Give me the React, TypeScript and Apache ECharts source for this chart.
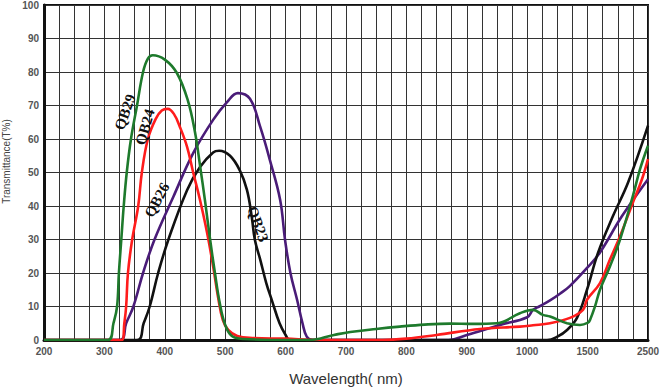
import React, { useEffect, useRef } from "react";
import * as echarts from "echarts";

// Wavelength (nm) -> transmittance (%)
const qb29: number[][] = [
  [200, 0], [306, 0], [315, 5], [321, 10], [324, 20], [328, 30], [332, 40], [337, 50], [344, 60],
  [354, 70], [364, 80], [372, 84], [380, 85], [400, 83.7], [420, 79.7], [438, 71.6],
  [450, 62], [458, 52.5], [467, 41], [475, 30], [483, 20], [491, 11], [500, 4.5],
  [511, 1.2], [530, 0.3], [600, 0], [640, 0], [680, 1.5], [707, 2.4], [750, 3.3], [789, 4],
  [830, 4.6], [872, 4.9], [910, 4.8], [950, 5], [988, 8], [1048, 9], [1130, 7.5], [1189, 7],
  [1330, 5], [1437, 4.5], [1507, 5.2], [1540, 6], [1622, 10], [1705, 15], [1871, 22],
  [2037, 30], [2250, 43], [2368, 51], [2500, 58]
];
const qb24: number[][] = [
  [200, 0], [329, 0], [333, 5], [336, 10], [339, 20], [346, 30], [356, 40], [362, 50],
  [372, 60], [385, 66], [395, 68.5], [405, 69], [415, 67.5], [425, 63.6], [437, 57.6], [447, 50],
  [458, 42], [470, 32], [480, 22], [488, 13], [496, 6], [505, 3], [520, 1.2], [545, 0.6],
  [600, 0.4], [650, 0], [760, 0], [800, 0.4], [850, 1.5], [922, 3.3], [988, 4], [1048, 4.4],
  [1189, 5], [1354, 6.6], [1462, 9], [1495, 12], [1705, 17], [1870, 24], [2037, 31],
  [2250, 41], [2400, 48], [2500, 54]
];
const qb26: number[][] = [
  [200, 0], [326, 0], [336, 5], [348, 10], [364, 20], [383, 30], [414, 42.7], [447, 55.8],
  [480, 65.7], [503, 71], [521, 73.7], [541, 72], [558, 63.6], [574, 53.7], [591, 41.8],
  [599, 30], [608, 20], [619, 12], [628, 5], [635, 1], [645, 0], [870, 0],
  [900, 1.5], [955, 4.5], [1000, 6.8], [1048, 9], [1100, 10], [1189, 11.8], [1271, 13.8],
  [1350, 16], [1495, 21.5], [1700, 26], [2070, 37], [2500, 48]
];
const qb23: number[][] = [
  [200, 0], [354, 0], [365, 5], [375, 10], [389, 20], [406, 30], [437, 44.8], [458, 51.6],
  [480, 56], [490, 56.5], [508, 55], [524, 50.7], [536, 44.8], [544, 36.7], [549, 30],
  [558, 24], [568, 17], [577, 12], [590, 5], [600, 1.5], [607, 0], [1164, 0], [1250, 1],
  [1330, 3], [1412, 6.6], [1495, 15], [1672, 26], [1920, 37], [2170, 47], [2500, 64]
];

const seriesNames = ["QB29", "QB24", "QB26", "QB23"];
const seriesColors = ["#1e7a2c", "#ff1c1c", "#4a1c78", "#111111"];
const xTickLabels = ["200", "300", "400", "500", "600", "700", "800", "900", "1000", "1500", "2500"];
// wavelength breakpoints of the non-linear axis (nm) and the axis units per segment
const breakNm = [200, 1000, 1500, 2500];
const breakPos = [0, 32, 36, 40];

function toAxis(nm: number): number {
  for (let i = 0; i < breakNm.length - 1; i++) {
    if (nm <= breakNm[i + 1]) {
      const t = (nm - breakNm[i]) / (breakNm[i + 1] - breakNm[i]);
      return breakPos[i] + t * (breakPos[i + 1] - breakPos[i]);
    }
  }
  return breakPos[breakPos.length - 1];
}

export default function App() {
  const ref = useRef<HTMLDivElement>(null);
  useEffect(() => {
    if (!ref.current) return;
    const chart = echarts.init(ref.current, null, { renderer: "svg" });
    const all = [qb29, qb24, qb26, qb23];
    const drawOrder = [2, 3, 1, 0];
    const series = drawOrder.map((i) => ({
      name: seriesNames[i],
      type: "line",
      data: all[i].map((p) => [toAxis(p[0]), p[1]]),
      showSymbol: false,
      smooth: 0.4,
      lineStyle: { color: seriesColors[i], width: 2.6 },
      itemStyle: { color: seriesColors[i] },
      z: 3,
    }));
    const labelFont = '"Liberation Serif", "DejaVu Serif", serif';
    const mkLabel = (text: string, x: number, y: number, deg: number) => ({
      type: "text",
      x,
      y,
      rotation: (deg * Math.PI) / 180,
      z: 10,
      style: {
        text,
        fill: "#111",
        font: `bold 15px ${labelFont}`,
        textAlign: "center",
        textVerticalAlign: "middle",
      },
    });
    const sans = "Liberation Sans, Arial, sans-serif";
    chart.setOption({
      animation: false,
      backgroundColor: "#ffffff",
      grid: {
        left: 44,
        right: 12,
        top: 5,
        bottom: 50,
        show: true,
        borderColor: "#111",
        borderWidth: 2,
        containLabel: false,
        outerBoundsMode: "none",
      },
      xAxis: {
        type: "value",
        min: 0,
        max: 40,
        interval: 1,
        name: "Wavelength( nm)",
        nameLocation: "middle",
        nameGap: 31,
        nameTextStyle: { fontSize: 15, color: "#333", fontFamily: sans },
        axisLine: { show: true, lineStyle: { color: "#111", width: 3 } },
        axisTick: { show: false },
        axisLabel: {
          fontSize: 10,
          fontWeight: "bold",
          color: "#555",
          margin: 6,
          fontFamily: sans,
          formatter: (v: number) => {
            const idx = Math.round(v) / 4;
            return Number.isInteger(idx) && idx >= 0 && idx < xTickLabels.length ? xTickLabels[idx] : "";
          },
        },
        splitLine: { show: true, lineStyle: { color: "#333", width: 1 } },
      },
      yAxis: {
        type: "value",
        min: 0,
        max: 100,
        interval: 10,
        name: "Transmittance(T%)",
        nameLocation: "middle",
        nameGap: 27,
        nameTextStyle: { fontSize: 10, color: "#444", fontFamily: sans, padding: [0, 0, 0, 22] },
        axisLine: { show: true, lineStyle: { color: "#111", width: 3 } },
        axisTick: { show: false },
        axisLabel: {
          fontSize: 10,
          fontWeight: "bold",
          color: "#555",
          margin: 5,
          fontFamily: sans,
        },
        splitLine: { show: true, lineStyle: { color: "#333", width: 1 } },
      },
      series,
      graphic: [
        mkLabel("QB29", 125, 112, 70),
        mkLabel("QB24", 145, 127, 74),
        mkLabel("QB26", 157, 200, 62),
        mkLabel("QB23", 258, 224, -70),
      ],
    });
    return () => chart.dispose();
  }, []);
  return (
    <div
      ref={ref}
      style={{ position: "fixed", left: 0, top: 0, width: 660, height: 390, background: "#fff" }}
    />
  );
}
